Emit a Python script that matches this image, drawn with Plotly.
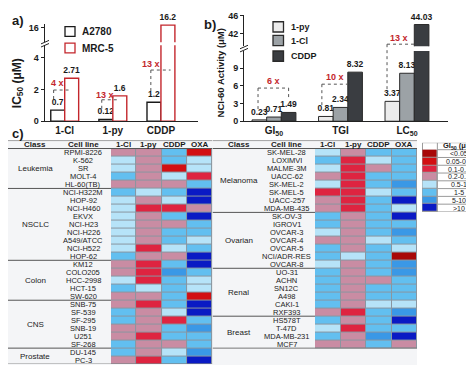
import plotly.graph_objects as go

W, H = 474, 365
F = "Liberation Sans, Arial, sans-serif"
RED = "#c3262c"
INK = "#1a1a1a"


def xp(px):
    return px / W


def yp(py):
    return 1 - py / H


# ---------------- data: panel a (IC50, uM) ----------------
a_compounds = ["1-Cl", "1-py", "CDDP"]
a_a2780 = [0.7, 0.12, 1.2]
a_mrc5 = [2.71, 1.6, 16.2]
a_fold = ["4 x", "13 x", "13 x"]

# ---------------- data: panel b (NCI-60 activity, uM) ----------------
b_metrics = ["GI<sub>50</sub>", "TGI", "LC<sub>50</sub>"]
b_1py = [0.23, 0.81, 3.37]
b_1cl = [0.71, 2.34, 8.13]
b_cddp = [1.49, 8.32, 44.03]
b_fold = ["6 x", "10 x", "13 x"]

# ---------------- data: panel c (GI50 bins) ----------------
gi_bins = ["<0.05", "0.05-0.1", "0.1-0.2", "0.2-0.5", "0.5-1", "1-5", "5-10", ">10"]
drugs = ["1-Cl", "1-py", "CDDP", "OXA"]

left_classes = ["Leukemia", "NSCLC", "Colon", "CNS", "Prostate"]
left_class_sizes = [5, 9, 5, 6, 2]
left_cells = ["RPMI-8226", "K-562", "SR", "MOLT-4", "HL-60(TB)",
              "NCI-H322M", "HOP-92", "NCI-H460", "EKVX", "NCI-H23", "NCI-H226",
              "A549/ATCC", "NCI-H522", "HOP-62",
              "KM12", "COLO205", "HCC-2998", "HCT-15", "SW-620",
              "SNB-75", "SF-539", "SF-295", "SNB-19", "U251", "SF-268",
              "DU-145", "PC-3"]
# bin index per drug (1-Cl, 1-py, CDDP, OXA)
left_bins = [[3, 3, 5, 1], [4, 3, 5, 4], [4, 3, 1, 4], [5, 3, 4, 2], [3, 3, 3, 5],
             [5, 4, 5, 7], [4, 3, 4, 7], [4, 2, 2, 3], [4, 3, 5, 7], [4, 3, 3, 5],
             [4, 3, 5, 5], [4, 3, 5, 4], [4, 2, 4, 5], [5, 3, 3, 7],
             [3, 2, 5, 7], [3, 2, 6, 5], [4, 2, 5, 4], [5, 4, 5, 4], [3, 3, 5, 1],
             [3, 2, 5, 7], [5, 3, 4, 7], [5, 3, 2, 5], [3, 3, 5, 6], [3, 2, 5, 5],
             [5, 3, 3, 5],
             [5, 3, 4, 6], [3, 2, 5, 7]]

right_classes = ["Melanoma", "Ovarian", "Renal", "Breast"]
right_class_sizes = [8, 7, 6, 4]
right_cells = ["SK-MEL-28", "LOXIMVI", "MALME-3M", "UACC-62", "SK-MEL-2",
               "SK-MEL-5", "UACC-257", "MDA-MB-435",
               "SK-OV-3", "IGROV1", "OVCAR-3", "OVCAR-4", "OVCAR-5",
               "NCI/ADR-RES", "OVCAR-8",
               "UO-31", "ACHN", "SN12C", "A498", "CAKI-1", "RXF393",
               "HS578T", "T-47D", "MDA-MB-231", "MCF7"]
right_bins = [[4, 3, 5, 5], [5, 2, 4, 5], [4, 2, 3, 5], [3, 2, 5, 5], [4, 2, 5, 6],
              [2, 2, 4, 5], [3, 2, 5, 7], [3, 2, 5, 4],
              [5, 3, 5, 7], [5, 3, 5, 5], [4, 3, 5, 6], [3, 3, 4, 5], [5, 3, 5, 4],
              [5, 4, 5, 0], [4, 3, 5, 6],
              [5, 3, 5, 6], [5, 3, 3, 5], [5, 3, 5, 5], [5, 3, 5, 5], [5, 3, 4, 4],
              [3, 2, 5, 6],
              [5, 3, 5, 7], [4, 2, 5, 5], [5, 3, 6, 7], [3, 3, 5, 3]]

# ---------------- styles ----------------
bin_colors = ["#a80808", "#d20f12", "#de2440", "#c98ca3",
              "#b6e3f8", "#62bff0", "#3a98e6", "#0a1ac4"]
colorscale = []
for i, c in enumerate(bin_colors):
    colorscale += [[i / len(bin_colors), c], [(i + 1) / len(bin_colors), c]]

A_LO_MAX = 4.8
B_LO_MAX = 11.9

fig = go.Figure()
bold8 = dict(family=F, size=8.5, color=INK, weight="bold")
shapes = []
annotations = []


def paper_text(text, x, y, size, color=INK, bold=True, angle=0, xanchor="center"):
    annotations.append(dict(text=text, x=xp(x), y=yp(y), xref="paper", yref="paper",
                            xanchor=xanchor, yanchor="middle", textangle=angle, showarrow=False,
                            font=dict(family=F, size=size, color=color,
                                      weight="bold" if bold else "normal")))


def legend_box(x0, y0, size, fill, line, label, fsize):
    shapes.append(dict(type="rect", xref="paper", yref="paper", x0=xp(x0), x1=xp(x0 + size),
                       y0=yp(y0 + size), y1=yp(y0), fillcolor=fill, line=dict(color=line, width=1.3)))
    paper_text(label, x0 + size + 5, y0 + size / 2, fsize, xanchor="left")


def broken_bars(cats, vals, xa, y_lo, y_hi, lo_max, name, width, off, marker):
    """Bars on a broken axis: full bars on the lower segment, overflow part on the upper one."""
    fig.add_bar(x=cats, y=vals, xaxis=xa, yaxis=y_lo, name=name, showlegend=False,
                width=width, offset=off, marker=marker,
                text=[f"{v:g}" for v in vals],
                textposition=["outside" if v <= lo_max else "none" for v in vals],
                constraintext="none", cliponaxis=False, textfont=bold8, hoverinfo="skip")
    hi = [(c, v) for c, v in zip(cats, vals) if v > lo_max]
    if hi:
        fig.add_bar(x=[c for c, _ in hi], y=[v for _, v in hi], xaxis=xa, yaxis=y_hi, name=name,
                    showlegend=False, width=width, offset=off, marker=marker,
                    text=[f"{v:g}" for _, v in hi], textposition="outside",
                    constraintext="none", cliponaxis=False, textfont=bold8, hoverinfo="skip")


# ---------------- panel a bars ----------------
a_series = [("A2780", a_a2780, INK, -0.29), ("MRC-5", a_mrc5, RED, 0.0)]
for name, vals, lc, off in a_series:
    broken_bars(a_compounds, vals, "x", "y", "y2", A_LO_MAX, name, 0.29, off,
                dict(color="white", line=dict(color=lc, width=1.4)))
for k, (name, vals, lc, off) in enumerate(a_series):
    legend_box(57, 15 + 17 * k, 10, "white", lc, name, 10)

# ---------------- panel b bars ----------------
b_series = [("1-py", b_1py, "#ececec", -0.33), ("1-Cl", b_1cl, "#9ca2a6", -0.11),
            ("CDDP", b_cddp, "#3a3d41", 0.11)]
for name, vals, fc, off in b_series:
    broken_bars(b_metrics, vals, "x2", "y3", "y4", B_LO_MAX, name, 0.22, off,
                dict(color=fc, line=dict(color="#2a2a2a", width=1)))
for k, (name, vals, fc, off) in enumerate(b_series):
    legend_box(265, [10, 24, 40][k], 10.5, fc, "#2a2a2a", name, 9)


# ---------------- panel c heatmaps ----------------
def table(cells, bins, classes, sizes, xa, ya, x_left):
    fig.add_heatmap(z=bins, x=drugs, y=cells, xaxis=xa, yaxis=ya,
                    colorscale=colorscale, zmin=-0.5, zmax=len(bin_colors) - 0.5,
                    showscale=False, xgap=1, ygap=1, hoverinfo="skip")
    n = len(cells)
    xr, yr = xa, ya
    shapes.append(dict(type="rect", xref=xr, yref=yr, x0=-0.5, x1=3.5, y0=-0.5, y1=n - 0.5,
                       fillcolor="#8a96a0", line=dict(width=0), layer="below"))
    for lab, xx in [("Class", -3.5), ("Cell line", -1.6)] + [(d, i) for i, d in enumerate(drugs)]:
        annotations.append(dict(text=lab, x=xx, y=-1, xref=xr, yref=yr, showarrow=False,
                                font=dict(family=F, size=8, color=INK, weight="bold")))
    for i, c in enumerate(cells):
        annotations.append(dict(text=c, x=-1.6, y=i, xref=xr, yref=yr, showarrow=False,
                                font=dict(family=F, size=7.5, color="#222")))
    start = 0
    for cl, sz in zip(classes, sizes):
        annotations.append(dict(text=cl, x=-3.5, y=start + (sz - 1) / 2, xref=xr, yref=yr,
                                showarrow=False, font=dict(family=F, size=8, color="#222")))
        if start > 0:
            shapes.append(dict(type="line", xref=xr, yref=yr, x0=x_left, x1=-0.5,
                               y0=start - 0.5, y1=start - 0.5, line=dict(color="#555", width=1)))
        start += sz
    for yy in (-1.5, -0.5):
        shapes.append(dict(type="line", xref=xr, yref=yr, x0=x_left, x1=3.5, y0=yy, y1=yy,
                           line=dict(color="#555", width=1)))
    shapes.append(dict(type="line", xref=xr, yref=yr, x0=x_left, x1=3.5, y0=n - 0.5, y1=n - 0.5,
                       line=dict(color="#777", width=1)))


table(left_cells, left_bins, left_classes, left_class_sizes, "x3", "y5", -4.57)
table(right_cells, right_bins, right_classes, right_class_sizes, "x4", "y6", -4.52)

# GI50 legend table
fig.add_heatmap(z=[[i] for i in range(len(gi_bins))], x=[0], y=gi_bins, xaxis="x5", yaxis="y7",
                colorscale=colorscale, zmin=-0.5, zmax=len(bin_colors) - 0.5,
                showscale=False, xgap=1, ygap=1, hoverinfo="skip")
shapes.append(dict(type="rect", xref="x5", yref="y7", x0=-0.5, x1=3.45, y0=-1.4, y1=7.5,
                   fillcolor="white", line=dict(color="#9a9a9a", width=1), layer="below"))
shapes.append(dict(type="rect", xref="x5", yref="y7", x0=-0.5, x1=0.5, y0=-0.5, y1=7.5,
                   fillcolor="#9a9a9a", line=dict(width=0), layer="below"))
for k in range(len(gi_bins)):
    shapes.append(dict(type="line", xref="x5", yref="y7", x0=0.5, x1=3.45, y0=k - 0.5, y1=k - 0.5,
                       line=dict(color="#9a9a9a", width=1)))
shapes.append(dict(type="line", xref="x5", yref="y7", x0=0.5, x1=0.5, y0=-1.4, y1=7.5,
                   line=dict(color="#9a9a9a", width=1)))
annotations.append(dict(text="GI<sub>50</sub> (μM)", x=1.97, y=-0.95, xref="x5", yref="y7",
                        showarrow=False, font=dict(family=F, size=7.5, color=INK, weight="bold")))
for b in gi_bins:
    annotations.append(dict(text=b, x=1.97, y=b, xref="x5", yref="y7", showarrow=False,
                            font=dict(family=F, size=7, color="#222")))

# table background
shapes.insert(0, dict(type="rect", xref="paper", yref="paper", x0=0, x1=xp(409),
                      y0=yp(363), y1=yp(131.5), fillcolor="#f4f5f7", line=dict(width=0), layer="below"))

# ---------------- brackets & fold labels ----------------
dash = dict(color="#555", width=1, dash="dot")


def bracket(xa, xl, xr_, y_lvl, y_left_bot, y_right_bot=None):
    shapes.append(dict(type="line", xref=xa, yref="paper", x0=xl, x1=xr_, y0=yp(y_lvl), y1=yp(y_lvl), line=dash))
    shapes.append(dict(type="line", xref=xa, yref="paper", x0=xl, x1=xl, y0=yp(y_lvl), y1=yp(y_left_bot), line=dash))
    if y_right_bot is not None:
        shapes.append(dict(type="line", xref=xa, yref="paper", x0=xr_, x1=xr_, y0=yp(y_lvl), y1=yp(y_right_bot), line=dash))


def fold(xa, text, x, y):
    annotations.append(dict(text=text, x=x, y=yp(y), xref=xa, yref="paper", showarrow=False,
                            xanchor="center", yanchor="middle",
                            font=dict(family=F, size=9, color=RED, weight="bold")))


bracket("x", -0.23, 0.08, 80, 92)
bracket("x", 1 - 0.23, 1 + 0.12, 90, 100)
bracket("x", 2 - 0.21, 2 + 0.2, 59.5, 85)
fold("x", a_fold[0], -0.15, 73)
fold("x", a_fold[1], 1 - 0.17, 85)
fold("x", a_fold[2], 2 - 0.2, 53)

bracket("x2", -0.24, 0.22, 78, 100, 88)
bracket("x2", 1 - 0.28, 1 + 0.11, 74, 98)
bracket("x2", 2 - 0.3, 2 + 0.12, 33, 82)
fold("x2", b_fold[0], 0.0, 71)
fold("x2", b_fold[1], 1 - 0.08, 67)
fold("x2", b_fold[2], 2 - 0.12, 27)

# axis break marks
for ax_x, y_mid in [(37, 32.5), (236, 37.5)]:
    for dy in (-1.6, 1.6):
        shapes.append(dict(type="line", xref="paper", yref="paper",
                           x0=xp(ax_x - 4), x1=xp(ax_x + 4), y0=yp(y_mid + dy + 1.8), y1=yp(y_mid + dy - 1.8),
                           line=dict(color="#222", width=1)))

# panel labels and axis titles
paper_text("a)", 10, 9, 13)
paper_text("b)", 202, 13, 13)
paper_text("c)", 10, 125, 13)
paper_text("IC<sub>50</sub> (μM)", 10, 73, 12, angle=-90)
paper_text("NCI-60 Activity (μM)", 212, 63, 9.5, angle=-90)

tickf = dict(family=F, size=9, color=INK, weight="bold")
yax_common = dict(showline=True, linecolor="#222", linewidth=1, ticks="outside", ticklen=3,
                  tickcolor="#222", showgrid=False, zeroline=False, tickfont=tickf, fixedrange=True,
                  ticklabeloverflow="allow")
xax_common = dict(showline=True, linecolor="#222", linewidth=1, ticks="", showgrid=False,
                  zeroline=False, tickfont=dict(family=F, size=10, color=INK, weight="bold"), fixedrange=True)
hidden = dict(visible=False, showgrid=False, zeroline=False, fixedrange=True)

fig.update_layout(
    width=W, height=H, margin=dict(l=0, r=0, t=0, b=0),
    paper_bgcolor="white", plot_bgcolor="rgba(0,0,0,0)",
    barmode="overlay", font=dict(family=F, color=INK), showlegend=False,
    xaxis=dict(domain=[xp(36.5), xp(190)], range=[-0.42, 2.77], anchor="y",
               categoryorder="array", categoryarray=a_compounds, **xax_common),
    yaxis=dict(domain=[yp(112), yp(34)], range=[0, A_LO_MAX], tickvals=[0, 2, 4], anchor="x", **yax_common),
    yaxis2=dict(domain=[yp(31), yp(12)], range=[15.0, 16.3], tickvals=[16], anchor="x", **yax_common),
    xaxis2=dict(domain=[xp(236), xp(440)], range=[-0.451, 2.617], anchor="y3",
                categoryorder="array", categoryarray=b_metrics, **xax_common),
    yaxis3=dict(domain=[yp(112), yp(40)], range=[0, B_LO_MAX], tickvals=[0, 3, 6, 9], anchor="x2", **yax_common),
    yaxis4=dict(domain=[yp(35), yp(3)], range=[39.11, 46.22], tickvals=[42, 46], anchor="x2", **yax_common),
    xaxis3=dict(domain=[0, xp(204.5)], range=[-4.57, 3.51], anchor="y5", **hidden),
    yaxis5=dict(domain=[yp(361), yp(131.8)], range=[26.5, -1.5], anchor="x3", **hidden),
    xaxis4=dict(domain=[xp(204.5), xp(409)], range=[-4.52, 3.5], anchor="y6", **hidden),
    yaxis6=dict(domain=[yp(361), yp(131.8)], range=[26.5, -1.5], anchor="x4", **hidden),
    xaxis5=dict(domain=[xp(413), xp(474)], range=[-0.6, 3.5], anchor="y7", **hidden),
    yaxis7=dict(domain=[yp(205), yp(134)], range=[7.5, -1.4], anchor="x5", **hidden),
    shapes=shapes, annotations=annotations,
)

fig.write_html("out.html")
